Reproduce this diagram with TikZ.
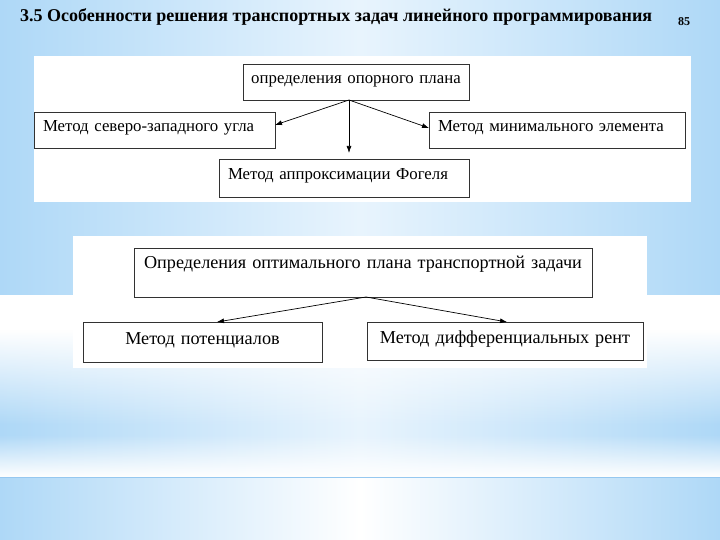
\documentclass[tikz,border=0pt]{standalone}
\usepackage{fontspec}
\setmainfont{Liberation Serif}
\usetikzlibrary{arrows.meta,fadings}
\definecolor{bgblue}{RGB}{174,216,247}
\definecolor{bgmid}{RGB}{232,244,253}
\definecolor{bgline}{RGB}{150,200,240}
\definecolor{boxline}{RGB}{50,50,50}
\tikzset{
  panel/.style={fill=white},
  lbox/.style={draw=boxline, line width=0.7pt, fill=white, inner xsep=9pt, inner ysep=0pt, outer sep=0pt, align=left, text height=11pt, text depth=7pt, font=\fontsize{16.8}{18}\selectfont},
  cbox/.style={draw=boxline, line width=0.7pt, fill=white, inner xsep=4pt, inner ysep=0pt, outer sep=0pt, align=center, text height=11pt, text depth=7pt, font=\fontsize{18.2}{20}\selectfont},
  conn/.style={draw=black, line width=0.7pt, -{Latex[length=7pt,width=5pt]}},
}
\begin{document}
\begin{tikzpicture}[x=1pt,y=-1pt]
\useasboundingbox (0,0) rectangle (720,540);
% background
\fill[left color=bgblue, right color=bgblue, middle color=bgmid] (0,0) rectangle (720,540);
\fill[white] (0,295) rectangle (720,330);
\fill[white, path fading=south] (0,330) rectangle (720,425);
\fill[white, path fading=north] (0,435) rectangle (720,477);
\fill[left color=bgblue, right color=bgblue, middle color=white] (0,477) rectangle (720,540);
\draw[bgline, line width=0.6pt] (0,477) -- (720,477);
% title
\node[anchor=west, inner sep=0pt, font=\fontsize{18}{20}\bfseries\selectfont] (ttl) at (20,17) {3.5 Особенности решения транспортных задач линейного программирования};
\node[inner sep=0pt, font=\fontsize{12}{14}\bfseries\selectfont] (pg) at (684,22) {85};
% panels
\fill[panel] (34,56) rectangle (691,202);
\fill[panel] (73,236) rectangle (647,368);
% top diagram
\node[lbox, inner xsep=4pt, align=center, text width=218pt, minimum height=36pt] (op) at (356,82) {определения опорного плана};
\node[lbox, text width=223pt, minimum height=36pt] (nw) at (154.5,130) {Метод северо-западного угла};
\node[lbox, text width=238pt, minimum height=36pt] (mn) at (557,130) {Метод минимального элемента};
\node[lbox, text width=232pt, minimum height=38pt] (fg) at (344,178) {Метод аппроксимации Фогеля};
\coordinate (ta) at (349,100);
\draw[conn] (ta) -- ([yshift=5pt]nw.east);
\draw[conn] (ta) -- ([yshift=2pt]mn.west);
\draw[conn, shorten >=6pt] (ta) -- (ta |- fg.north);
% bottom diagram
\node[cbox, text width=450pt, minimum height=49pt, text height=11pt, text depth=19pt] (big) at (363,272.5) {Определения оптимального плана транспортной задачи};
\node[cbox, text width=231pt, minimum height=40pt] (pot) at (202.5,342) {Метод потенциалов};
\node[cbox, text width=268pt, minimum height=38pt] (dif) at (505,341) {Метод дифференциальных рент};
\draw[conn] ([xshift=3pt]big.south) -- ([xshift=14.5pt]pot.north);
\draw[conn] ([xshift=3pt]big.south) -- ([xshift=2pt]dif.north);
\end{tikzpicture}
\end{document}
